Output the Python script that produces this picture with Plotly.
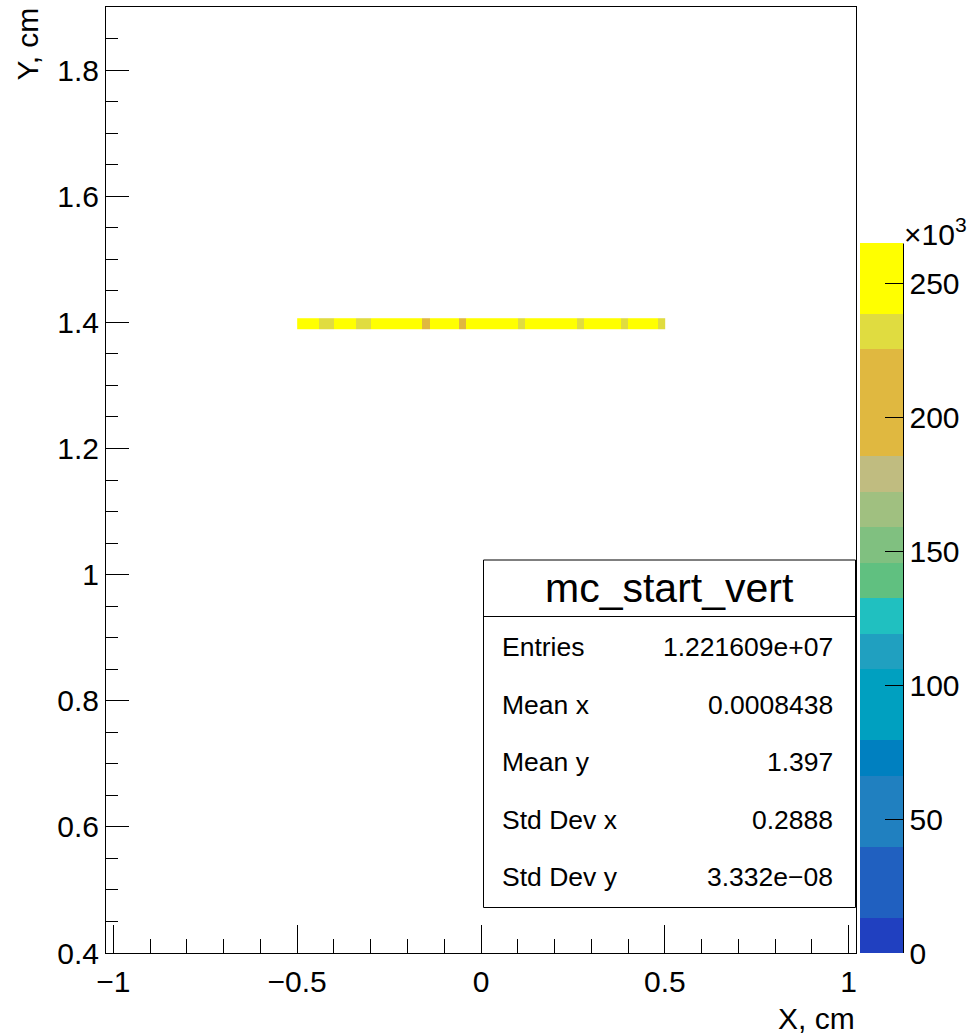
import numpy as np
import plotly.graph_objects as go

# ---- histogram contents: mc_start_vert (TH2, COLZ) ----
# x bins: 50 bins of 0.02 cm between -0.5 and 0.5; a single filled y bin near 1.4 cm
x_bin_low = -0.5
x_bin_width = 0.02
y_bin_center = 1.398
y_bin_width = 0.017

bin_counts = [
    245000, 248000, 245000, 233000, 236000,
    247000, 244000, 252000, 231000, 237000,
    244000, 249000, 241000, 255000, 249000,
    241000, 251000, 214000, 246000, 252000,
    244090, 250000, 219000, 250000, 245000,
    242000, 265000, 247000, 248000, 244000,
    234000, 249000, 251000, 243000, 251000,
    246000, 255000, 248000, 235000, 249000,
    245000, 246000, 242000, 252000, 232000,
    249000, 244000, 248000, 247000, 236000,
]

# statistics box
stats_title = "mc_start_vert"
stats_names = ["Entries", "Mean x", "Mean y", "Std Dev x", "Std Dev y"]
stats_values = ["1.221609e+07", "0.0008438", "1.397", "0.2888", "3.332e\u221208"]

# palette levels (20 contours, bottom to top)
palette = [
    "#2040c0", "#2060c0", "#2060c0", "#2080c0", "#2080c0",
    "#0080c0", "#00a0c0", "#00a0c0", "#20a0c0", "#20c0c0",
    "#60c080", "#80c080", "#a0c080", "#c0bc80", "#e0b840",
    "#e0b840", "#e0b840", "#e0dc40", "#ffff00", "#ffff00",
]
cbar_ticks = [0, 50000, 100000, 150000, 200000, 250000]
cbar_ticktext = ["0", "50", "100", "150", "200", "250"]

x_range = [-1.02, 1.02]
y_range = [0.4, 1.9]

# ---- layout geometry (pixels) ----
W, H = 968, 1034
PL, PR, PT, PB = 106, 856, 7, 953
FONT = "Liberation Sans, Arial, Helvetica, sans-serif"


def fx(xp):
    return (xp - PL) / (PR - PL)


def fy(yp):
    return (PB - yp) / (PB - PT)


n_bins = len(bin_counts)
x_edges = x_bin_low + x_bin_width * np.arange(n_bins + 1)
y_edges = [y_bin_center - y_bin_width / 2, y_bin_center + y_bin_width / 2]
zmax = max(bin_counts)

nlev = len(palette)
colorscale = []
for i, c in enumerate(palette):
    colorscale.append([i / nlev, c])
    colorscale.append([(i + 1) / nlev, c])

fig = go.Figure()
fig.add_trace(go.Heatmap(
    x=x_edges,
    y=y_edges,
    z=[bin_counts],
    zmin=0,
    zmax=zmax,
    colorscale=colorscale,
    showscale=True,
    colorbar=dict(
        x=fx(860), xanchor="left", xpad=0,
        y=0, yanchor="bottom", ypad=0,
        lenmode="pixels", len=PB - 243.5,
        thickness=43, thicknessmode="pixels",
        outlinewidth=0,
        tickmode="array", tickvals=cbar_ticks, ticktext=cbar_ticktext,
        ticks="inside", ticklen=18, tickwidth=1, tickcolor="black",
        tickfont=dict(family=FONT, size=30, color="black"),
    ),
))

axis_common = dict(
    showline=True, linecolor="black", linewidth=1, mirror=True,
    ticks="inside", tickcolor="black", tickwidth=1,
    showgrid=False, zeroline=False,
    tickfont=dict(family=FONT, size=30, color="black"),
)

fig.update_xaxes(
    range=x_range, tickmode="array", tickvals=[-1, -0.5, 0, 0.5, 1],
    ticktext=["\u22121", "\u22120.5", "0", "0.5", "1"],
    ticklen=28, ticklabelstandoff=2,
    minor=dict(ticks="inside", ticklen=14, tickcolor="black", tickwidth=1,
               tick0=-1, dtick=0.1, showgrid=False),
    **axis_common,
)
fig.update_yaxes(
    range=y_range, tickmode="array", tickvals=[0.4, 0.6, 0.8, 1.0, 1.2, 1.4, 1.6, 1.8],
    ticktext=["0.4", "0.6", "0.8", "1", "1.2", "1.4", "1.6", "1.8"],
    ticklen=23, ticklabelstandoff=0,
    minor=dict(ticks="inside", ticklen=12, tickcolor="black", tickwidth=1,
               tick0=0.4, dtick=0.05, showgrid=False),
    **axis_common,
)

shapes = []
# colour-bar axis line
shapes.append(dict(type="line", xref="paper", yref="paper",
                   x0=fx(903.5), x1=fx(903.5), y0=fy(PB), y1=fy(243.5),
                   line=dict(color="black", width=1)))
# statistics box
box_l, box_r, box_t, box_b, box_div = 483.5, 855.5, 560, 907.5, 616.5
shapes.append(dict(type="rect", xref="paper", yref="paper",
                   x0=fx(box_l), x1=fx(box_r), y0=fy(box_b), y1=fy(box_t),
                   line=dict(color="black", width=1), fillcolor="white", layer="above"))
shapes.append(dict(type="line", xref="paper", yref="paper",
                   x0=fx(box_l), x1=fx(box_r), y0=fy(box_div), y1=fy(box_div),
                   line=dict(color="black", width=1), layer="above"))

annotations = []
annotations.append(dict(text=stats_title, xref="paper", yref="paper",
                        x=fx((box_l + box_r) / 2), y=fy((box_t + box_div) / 2),
                        xanchor="center", yanchor="middle", showarrow=False,
                        font=dict(family=FONT, size=41, color="black")))
for i, (name, val) in enumerate(zip(stats_names, stats_values)):
    yc = 647 + 57.5 * i
    annotations.append(dict(text=name, xref="paper", yref="paper",
                            x=fx(500), y=fy(yc), xanchor="left", yanchor="middle",
                            showarrow=False, font=dict(family=FONT, size=26.5, color="black")))
    annotations.append(dict(text=val, xref="paper", yref="paper",
                            x=fx(835), y=fy(yc), xanchor="right", yanchor="middle",
                            showarrow=False, font=dict(family=FONT, size=26.5, color="black")))

# axis titles
annotations.append(dict(text="X, cm", xref="paper", yref="paper",
                        x=fx(857), y=fy(1018), xanchor="right", yanchor="middle",
                        showarrow=False, font=dict(family=FONT, size=30, color="black")))
annotations.append(dict(text="Y, cm", xref="paper", yref="paper",
                        x=fx(27), y=fy(6), xanchor="center", yanchor="top",
                        textangle=-90, showarrow=False,
                        font=dict(family=FONT, size=30, color="black")))
# colour-bar exponent
annotations.append(dict(text="\u00d710<sup>3</sup>", xref="paper", yref="paper",
                        x=fx(902), y=fy(232), xanchor="left", yanchor="middle",
                        showarrow=False, font=dict(family=FONT, size=30, color="black")))

fig.update_layout(
    width=W, height=H,
    margin=dict(l=PL, r=W - PR, t=PT, b=H - PB, autoexpand=False),
    paper_bgcolor="white", plot_bgcolor="white",
    shapes=shapes, annotations=annotations,
    showlegend=False,
)

fig.write_html("out.html")
